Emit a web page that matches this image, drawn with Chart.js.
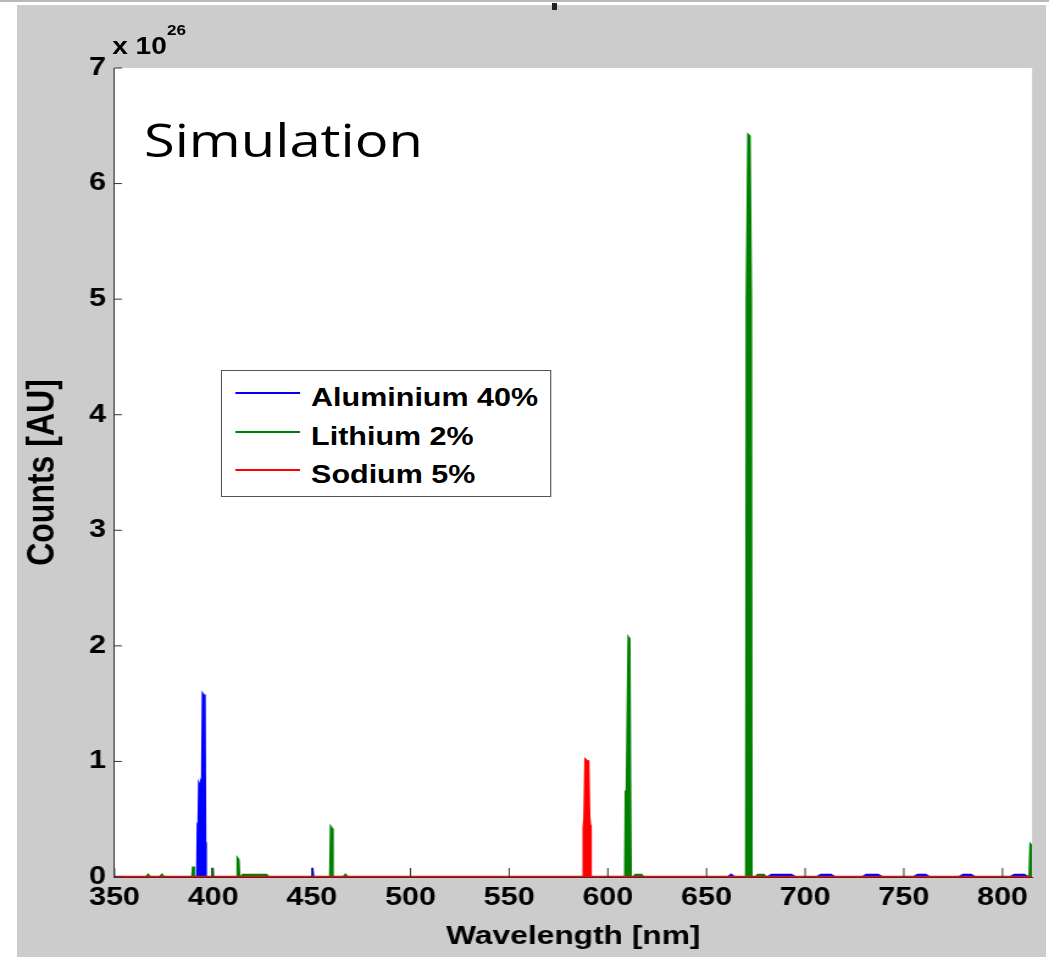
<!DOCTYPE html>
<html>
<head>
<meta charset="utf-8">
<title>Simulation</title>
<script src="https://cdn.jsdelivr.net/npm/chart.js@4.4.0/dist/chart.umd.min.js"></script>
<style>
  html, body { margin: 0; padding: 0; background: #fff; }
  #linhaTopo { position: absolute; left: 0; top: 0; width: 1049px; height: 2px; background: #b9b9b9; }
  #painel { position: absolute; left: 17px; top: 5px; width: 1029px; height: 952px; background: #cccccc; }
  #fragmento { position: absolute; left: 552px; top: 3px; width: 5px; height: 7px; background: #222; }
  /* the reference figure is stretched sideways, so the whole plot is too */
  #esticado { position: absolute; left: 0; top: 0; width: 860px; height: 957px; transform: scaleX(1.2198); transform-origin: 0 0; }
  #grafico { position: absolute; left: 0; top: 0; }
  .texto { position: absolute; font-family: "Liberation Sans", Arial, sans-serif; font-weight: bold; color: #000; white-space: nowrap; }
  #simulacao { left: 118px; top: 116px; font-family: "Open Sans", sans-serif; font-weight: normal; font-size: 46px; line-height: 1; }
  #expoente { left: 92px; top: 32px; font-size: 23px; line-height: 28px; }
  #expoente sup { position: absolute; left: 45px; top: -10px; font-size: 14px; line-height: 16px; }
  #legenda { position: absolute; left: 181px; top: 370px; width: 271px; height: 127px; box-sizing: border-box; border: 1px solid #555; background: #fff; }
  .amostra { position: absolute; left: 11px; width: 53px; height: 2px; }
  .rotulo { position: absolute; left: 73px; font-size: 25px; line-height: 30px; }
</style>
</head>
<body>
<div id="linhaTopo"></div>
<div id="painel"></div>
<div id="fragmento"></div>
<div id="esticado">
  <canvas id="grafico" width="860" height="957"></canvas>
  <div id="simulacao" class="texto">Simulation</div>
  <div id="expoente" class="texto">x 10<sup>26</sup></div>
  <div id="legenda"></div>
</div>
<script>
// counts are given in units of 1e26
const xTicks = [350, 400, 450, 500, 550, 600, 650, 700, 750, 800];
const yTicks = [0, 1, 2, 3, 4, 5, 6, 7];

const aluminiumWavelength = [350, 391.9, 392.2, 392.6, 392.9, 393.4, 393.9, 394.4, 394.8, 395.2, 395.6, 395.9, 396.2,
  449.7, 450.2, 450.7, 661, 662.5, 664, 681, 683, 693, 695, 706, 708, 713, 715, 729, 731, 737, 739,
  755, 757, 761, 763, 778, 780, 784, 786, 804, 806, 811, 813, 815];
const aluminiumCounts = [0, 0, 0.46, 0.47, 0.8, 0.78, 0.81, 0.79, 1.58, 1.57, 1.58, 0.3, 0,
  0, 0.08, 0, 0, 0.02, 0, 0, 0.02, 0.02, 0, 0, 0.02, 0.02, 0, 0, 0.02, 0.02, 0,
  0, 0.02, 0.02, 0, 0, 0.02, 0.02, 0, 0, 0.02, 0.02, 0, 0];

const lithiumWavelength = [350, 366, 367, 368, 373, 374, 375, 389.4, 389.8, 390.2, 399.1, 399.5, 399.9,
  412.0, 412.4, 412.8, 413.2, 414, 415, 427, 428, 459.3, 459.7, 460.1, 460.5, 466, 467, 468,
  608.8, 609.1, 609.6, 610.5, 610.9, 611.3, 611.6, 613, 614, 617, 618,
  670.1, 670.4, 671.2, 671.8, 672.5, 672.8, 675, 676, 679, 680, 813.7, 814.2, 814.7, 815];
const lithiumCounts = [0, 0, 0.02, 0, 0, 0.02, 0, 0, 0.09, 0, 0, 0.08, 0,
  0, 0.16, 0.15, 0, 0, 0.02, 0.02, 0, 0, 0.43, 0.42, 0, 0, 0.02, 0,
  0, 0.74, 0.75, 2.07, 2.06, 0.73, 0, 0, 0.02, 0.02, 0,
  0, 5.0, 6.42, 6.41, 5.02, 0, 0, 0.02, 0.02, 0, 0, 0.28, 0.27, 0.05];

const sodiumWavelength = [350, 587.6, 587.9, 588.3, 588.8, 589.4, 589.9, 590.4, 590.8, 591.1, 815];
const sodiumCounts = [0, 0, 0.43, 0.51, 1.01, 1.0, 1.01, 0.52, 0.45, 0, 0];

function pontos(wl, counts) {
  return wl.map((w, i) => ({ x: w, y: counts[i] }));
}

const fonte = { family: "'Liberation Sans', Arial, sans-serif", weight: 'bold', size: 25 };

const fundoBranco = {
  id: 'fundoBranco',
  beforeDraw(chart) {
    const { ctx, chartArea: a } = chart;
    ctx.save();
    ctx.fillStyle = '#ffffff';
    ctx.fillRect(a.left, a.top, a.right - a.left, a.bottom - a.top);
    ctx.restore();
  }
};

// MATLAB style tick marks pointing into the axes
const marcasInternas = {
  id: 'marcasInternas',
  afterDatasetsDraw(chart) {
    const { ctx, chartArea: a, scales } = chart;
    ctx.save();
    ctx.strokeStyle = '#333';
    ctx.lineWidth = 1;
    scales.x.ticks.forEach(t => {
      const px = scales.x.getPixelForValue(t.value);
      ctx.beginPath();
      ctx.moveTo(px, a.bottom);
      ctx.lineTo(px, a.bottom - 9);
      ctx.stroke();
    });
    scales.y.ticks.forEach(t => {
      const py = scales.y.getPixelForValue(t.value);
      ctx.beginPath();
      ctx.moveTo(a.left, py);
      ctx.lineTo(a.left + 6, py);
      ctx.stroke();
    });
    ctx.restore();
  }
};

const ctx = document.getElementById('grafico').getContext('2d');

window.graficoAtual = new Chart(ctx, {
  type: 'line',
  data: {
    datasets: [
      { label: 'Aluminium 40%', data: pontos(aluminiumWavelength, aluminiumCounts), borderColor: '#0000ff', backgroundColor: '#0000ff', fill: 'origin', order: 1 },
      { label: 'Lithium 2%', data: pontos(lithiumWavelength, lithiumCounts), borderColor: '#008000', backgroundColor: '#008000', fill: 'origin', order: 2 },
      { label: 'Sodium 5%', data: pontos(sodiumWavelength, sodiumCounts), borderColor: '#ff0000', backgroundColor: '#ff0000', fill: 'origin', borderWidth: 2.5, order: 0 }
    ]
  },
  options: {
    responsive: false,
    animation: false,
    events: [],
    elements: {
      point: { radius: 0 },
      line: { borderWidth: 2, tension: 0 }
    },
    layout: { padding: { left: 11.5, right: 13.9, top: 68, bottom: 1 } },
    plugins: {
      legend: { display: false },
      tooltip: { enabled: false }
    },
    scales: {
      x: {
        type: 'linear',
        min: 350,
        max: 815,
        afterBuildTicks: s => { s.ticks = xTicks.map(v => ({ value: v })); },
        afterFit: s => { s.height = 79; },
        ticks: { font: fonte, color: '#000', padding: 6, maxRotation: 0, autoSkip: false },
        grid: { display: false, drawTicks: false },
        border: { display: true, color: '#333' },
        title: { display: true, text: 'Wavelength [nm]', font: { ...fonte, size: 26 }, color: '#000', padding: { top: 4, bottom: 4 } }
      },
      y: {
        type: 'linear',
        min: 0,
        max: 7,
        afterBuildTicks: s => { s.ticks = yTicks.map(v => ({ value: v })); },
        afterFit: s => { s.width = 82.4; },
        ticks: { font: fonte, color: '#000', padding: 7 },
        grid: { display: false, drawTicks: false },
        border: { display: true, color: '#333' },
        title: { display: true, text: 'Counts [AU]', font: { ...fonte, size: 32 }, color: '#000', padding: { top: 4, bottom: 4 } }
      }
    }
  },
  plugins: [fundoBranco, marcasInternas]
});

// legend box drawn in the plot, like the original
const legenda = document.getElementById('legenda');
const linhasY = [22, 61, 99];
window.graficoAtual.data.datasets.forEach((ds, i) => {
  const amostra = document.createElement('div');
  amostra.className = 'amostra';
  amostra.style.top = (linhasY[i] - 1) + 'px';
  amostra.style.background = ds.borderColor;
  legenda.appendChild(amostra);
  const rotulo = document.createElement('div');
  rotulo.className = 'texto rotulo';
  rotulo.style.top = (linhasY[i] - 11) + 'px';
  rotulo.textContent = ds.label;
  legenda.appendChild(rotulo);
});
</script>
</body>
</html>
